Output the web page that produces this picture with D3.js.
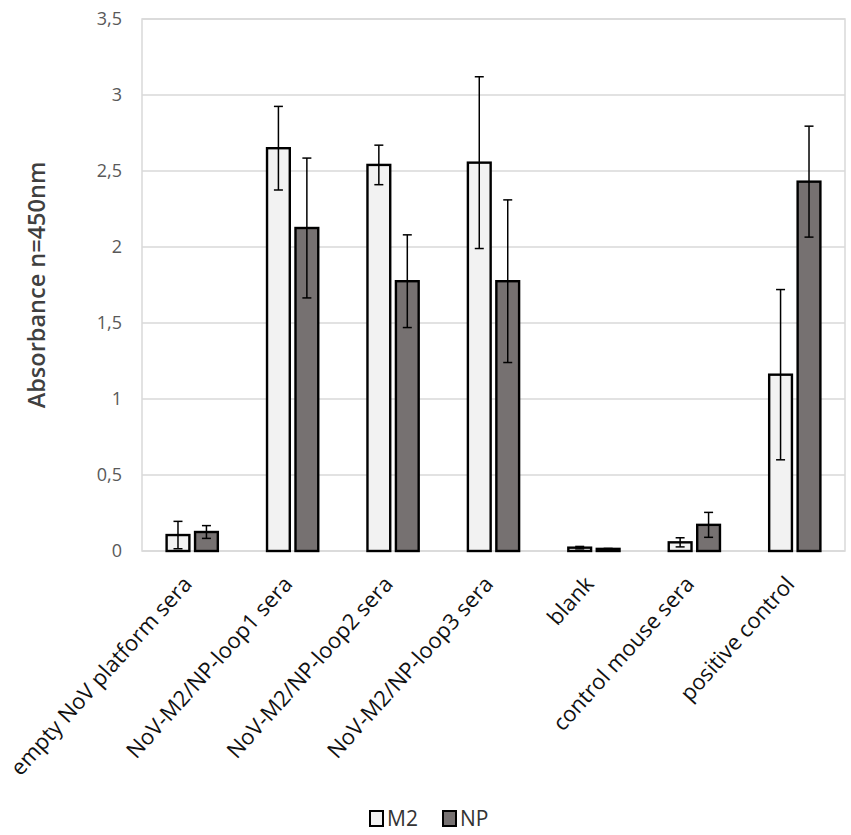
<!DOCTYPE html>
<html>
<head>
<meta charset="utf-8">
<script src="https://cdn.jsdelivr.net/npm/d3@7"></script>
<style>
  body { margin: 0; background: #fff; }
  text { font-family: "Open Sans", sans-serif; }
</style>
</head>
<body>
<div id="chart"></div>
<script>
// data
var categories = ["empty NoV platform sera", "NoV-M2/NP-loop1 sera", "NoV-M2/NP-loop2 sera",
                  "NoV-M2/NP-loop3 sera", "blank", "control mouse sera", "positive control"];
var seriesNames = ["M2", "NP"];
var m2Values = [0.105, 2.65, 2.54, 2.555, 0.022, 0.057, 1.16];
var m2Errors = [0.09, 0.275, 0.13, 0.565, 0.008, 0.03, 0.56];
var npValues = [0.125, 2.125, 1.775, 1.775, 0.014, 0.172, 2.43];
var npErrors = [0.042, 0.46, 0.305, 0.535, 0.003, 0.082, 0.365];
var yTicks = [0, 0.5, 1, 1.5, 2, 2.5, 3, 3.5];

var colors = { M2: "#f2f2f2", NP: "#767171" };

var W = 851, H = 835;
var margin = { top: 19, right: 6, bottom: 284, left: 142 };
var width = W - margin.left - margin.right,
    height = H - margin.top - margin.bottom;

var svg = d3.select("#chart").append("svg")
    .attr("width", W)
    .attr("height", H)
    .style("background", "#fff");

var g = svg.append("g")
    .attr("transform", "translate(" + margin.left + "," + margin.top + ")");

var y = d3.scaleLinear().domain([0, 3.5]).range([height, 0]);

var x0 = d3.scaleBand()
    .domain(categories)
    .range([0, width])
    .paddingInner(0.49)
    .paddingOuter(0.245);

var x1 = d3.scaleBand()
    .domain(seriesNames)
    .range([0, x0.bandwidth()])
    .paddingInner(0.2);

// gridlines
g.append("g")
    .selectAll("line")
    .data(yTicks)
    .enter()
    .append("line")
    .attr("x1", 0)
    .attr("x2", width)
    .attr("y1", function (d) { return y(d); })
    .attr("y2", function (d) { return y(d); })
    .attr("stroke", "#d9d9d9")
    .attr("stroke-width", 1.5);

// plot area border
g.append("rect")
    .attr("width", width)
    .attr("height", height)
    .attr("fill", "none")
    .attr("stroke", "#d9d9d9")
    .attr("stroke-width", 1.5);

// y axis labels
var yAxis = d3.axisLeft(y)
    .tickValues(yTicks)
    .tickSize(0)
    .tickPadding(20)
    .tickFormat(function (d) { return String(d).replace(".", ","); });

var ya = g.append("g").call(yAxis);
ya.select(".domain").remove();
ya.selectAll("text")
    .style("font-family", "'Open Sans', sans-serif")
    .style("font-size", "18px")
    .attr("fill", "#595959");

// y title
svg.append("text")
    .attr("transform", "translate(45,285) rotate(-90)")
    .attr("text-anchor", "middle")
    .style("font-size", "23.5px")
    .style("font-weight", "600")
    .attr("fill", "#404040")
    .text("Absorbance n=450nm");

// bars
var rows = categories.map(function (c, i) {
    return {
        cat: c,
        items: [
            { key: "M2", value: m2Values[i], err: m2Errors[i] },
            { key: "NP", value: npValues[i], err: npErrors[i] }
        ]
    };
});

var groups = g.selectAll(".group")
    .data(rows)
    .enter()
    .append("g")
    .attr("class", "group")
    .attr("transform", function (d) { return "translate(" + x0(d.cat) + ",0)"; });

groups.selectAll("rect")
    .data(function (d) { return d.items; })
    .enter()
    .append("rect")
    .attr("x", function (d) { return x1(d.key); })
    .attr("y", function (d) { return y(d.value); })
    .attr("width", x1.bandwidth())
    .attr("height", function (d) { return height - y(d.value); })
    .attr("fill", function (d) { return colors[d.key]; })
    .attr("stroke", "#000")
    .attr("stroke-width", 2.4);

// error bars
var cap = 4.5;
var eb = groups.selectAll(".err")
    .data(function (d) { return d.items; })
    .enter()
    .append("g")
    .attr("class", "err")
    .attr("stroke", "#000")
    .attr("stroke-width", 1.5)
    .attr("transform", function (d) { return "translate(" + (x1(d.key) + x1.bandwidth() / 2) + ",0)"; });

eb.append("line")
    .attr("y1", function (d) { return y(d.value + d.err); })
    .attr("y2", function (d) { return y(Math.max(0, d.value - d.err)); });
eb.append("line")
    .attr("x1", -cap).attr("x2", cap)
    .attr("y1", function (d) { return y(d.value + d.err); })
    .attr("y2", function (d) { return y(d.value + d.err); });
eb.append("line")
    .attr("x1", -cap).attr("x2", cap)
    .attr("y1", function (d) { return y(Math.max(0, d.value - d.err)); })
    .attr("y2", function (d) { return y(Math.max(0, d.value - d.err)); });

// x labels, rotated
g.append("g")
    .selectAll("text")
    .data(categories)
    .enter()
    .append("text")
    .attr("text-anchor", "end")
    .attr("transform", function (d) {
        return "translate(" + (x0(d) + x0.bandwidth() / 2 + 1) + "," + (height + 34) + ") rotate(-48)";
    })
    .style("font-size", "22px")
    .attr("fill", "#111")
    .text(function (d) { return d; });

// legend
var legend = svg.append("g").attr("transform", "translate(370,811)");
var lx = [0, 73];
seriesNames.forEach(function (s, i) {
    legend.append("rect")
        .attr("x", lx[i])
        .attr("y", 0)
        .attr("width", 13)
        .attr("height", 15)
        .attr("fill", colors[s])
        .attr("stroke", "#000")
        .attr("stroke-width", 2);
    legend.append("text")
        .attr("x", lx[i] + 17)
        .attr("y", 15)
        .style("font-size", "21px")
        .attr("fill", "#333")
        .text(s);
});
</script>
</body>
</html>
